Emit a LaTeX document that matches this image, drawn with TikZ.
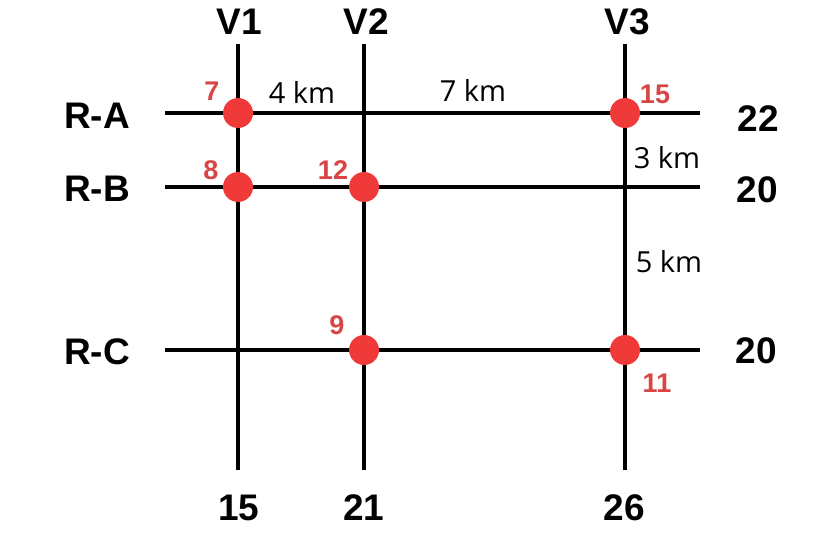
\documentclass[tikz,border=0pt]{standalone}
\usepackage{fontspec}
\setmainfont{Liberation Sans}
\newfontfamily\kmfont{Open Sans}
\definecolor{dotred}{HTML}{F03A3A}
\definecolor{numred}{HTML}{D94444}
\begin{document}
\begin{tikzpicture}[x=1pt,y=-1pt,
  road/.style={line width=3.7pt,black},
  dot/.style={circle,fill=dotred,minimum size=30pt,inner sep=0pt},
  biglabel/.style={inner sep=0pt,font=\fontsize{37}{40}\selectfont\bfseries},
  kmlabel/.style={inner sep=0pt,font=\kmfont\fontsize{29}{32}\selectfont},
  rednum/.style={inner sep=0pt,text=numred,font=\fontsize{27}{29}\selectfont\bfseries}]
\useasboundingbox (0,0) rectangle (819,540);
\fill[white] (0,0) rectangle (819,540);
% line end points
\coordinate (ra-l) at (165,113); \coordinate (ra-r) at (700,113);
\coordinate (rb-l) at (165,187); \coordinate (rb-r) at (700,187);
\coordinate (rc-l) at (165,350); \coordinate (rc-r) at (700,350);
\coordinate (v1-t) at (238,44); \coordinate (v1-b) at (238,470);
\coordinate (v2-t) at (364,44); \coordinate (v2-b) at (364,470);
\coordinate (v3-t) at (625,44); \coordinate (v3-b) at (625,470);
\draw[road] (ra-l) -- (ra-r);
\draw[road] (rb-l) -- (rb-r);
\draw[road] (rc-l) -- (rc-r);
\draw[road] (v1-t) -- (v1-b);
\draw[road] (v2-t) -- (v2-b);
\draw[road] (v3-t) -- (v3-b);
% dots
\node[dot] (d1) at (238,113) {};
\node[dot] (d2) at (238,187) {};
\node[dot] (d3) at (364,187) {};
\node[dot] (d4) at (625,113) {};
\node[dot] (d5) at (364,350) {};
\node[dot] (d6) at (625,350) {};
% top labels
\node[biglabel] (V1) at (239,22) {V1};
\node[biglabel] (V2) at (366,22) {V2};
\node[biglabel] (V3) at (627,22) {V3};
% left labels
\node[biglabel] (RA) at (97,116) {R-A};
\node[biglabel] (RB) at (97,189) {R-B};
\node[biglabel] (RC) at (97,352) {R-C};
% right labels
\node[biglabel] (sA) at (758,119) {22};
\node[biglabel] (sB) at (757,190) {20};
\node[biglabel] (sC) at (756,351) {20};
% bottom labels
\node[biglabel] (s1) at (239,508) {15};
\node[biglabel] (s2) at (364,508) {21};
\node[biglabel] (s3) at (624,508) {26};
% distances
\node[kmlabel] (k4) at (302,92) {4 km};
\node[kmlabel] (k7) at (473,90) {7 km};
\node[kmlabel] (k3) at (667,158) {3 km};
\node[kmlabel] (k5) at (669,262) {5 km};
% red numbers
\node[rednum] (n7) at (212,91) {7};
\node[rednum] (n8) at (211,170) {8};
\node[rednum] (n12) at (333,170) {12};
\node[rednum] (n15) at (655,94) {15};
\node[rednum] (n9) at (337,325) {9};
\node[rednum] (n11) at (657,383) {11};
\end{tikzpicture}
\end{document}
